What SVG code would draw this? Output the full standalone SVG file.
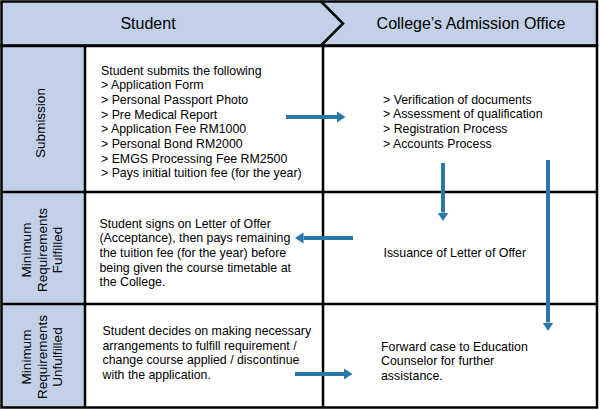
<svg xmlns="http://www.w3.org/2000/svg" width="600" height="410" viewBox="0 0 600 410">
<defs>
<style>
.t{font-family:"Liberation Sans",Arial,sans-serif;font-size:12.35px;fill:#000}
.h{font-family:"Liberation Sans",Arial,sans-serif;font-size:16px;fill:#000;text-anchor:middle}
.s{font-family:"Liberation Sans",Arial,sans-serif;font-size:13.5px;fill:#000;text-anchor:middle}
.ln{stroke:#000;stroke-width:2.5;fill:none}
.ar{stroke:#2a78aa;stroke-width:4;fill:none;marker-end:url(#ah)}
</style>
<marker id="ah" markerUnits="userSpaceOnUse" markerWidth="9" markerHeight="12" refX="0" refY="6" orient="auto">
<path d="M0,0.5 L8.5,6 L0,11.5 z" fill="#2a78aa"/>
</marker>
</defs>
<rect x="0" y="0" width="600" height="410" fill="#fff"/>
<g id="header">
<rect x="1.5" y="1.5" width="595.5" height="44" fill="#c2d1e8" stroke="#000" stroke-width="2.5"/>
<polyline points="321,1.5 343,23.5 321,45.5" class="ln"/>
<text class="h" x="148" y="29">Student</text>
<text class="h" x="471" y="29">College’s Admission Office</text>
</g>
<g id="grid">
<rect x="1.5" y="46" width="83.5" height="361.5" fill="#c2d1e8"/>
<rect x="1.5" y="46" width="595.5" height="361.5" class="ln"/>
<line x1="85" y1="46" x2="85" y2="407.5" class="ln"/>
<line x1="323" y1="46" x2="323" y2="407.5" class="ln"/>
<line x1="1.5" y1="192" x2="597" y2="192" class="ln"/>
<line x1="1.5" y1="304" x2="597" y2="304" class="ln"/>
</g>
<g id="lane-submission">
<text class="s" transform="translate(45,123) rotate(-90)">Submission</text>
</g>
<g id="lane-fulfilled">
<text class="s" transform="translate(31,250) rotate(-90)">Minimum</text>
<text class="s" transform="translate(46.5,250) rotate(-90)">Requirements</text>
<text class="s" transform="translate(62,250) rotate(-90)">Fulfilled</text>
</g>
<g id="lane-unfulfilled">
<text class="s" transform="translate(31,357) rotate(-90)">Minimum</text>
<text class="s" transform="translate(46.5,357) rotate(-90)">Requirements</text>
<text class="s" transform="translate(62,357) rotate(-90)">Unfulfilled</text>
</g>
<g id="student-submits">
<text class="t" x="101" y="74.5">Student submits the following</text>
<text class="t" x="101" y="89.2">&gt; Application Form</text>
<text class="t" x="101" y="103.9">&gt; Personal Passport Photo</text>
<text class="t" x="101" y="118.6">&gt; Pre Medical Report</text>
<text class="t" x="101" y="133.3">&gt; Application Fee RM1000</text>
<text class="t" x="101" y="148">&gt; Personal Bond RM2000</text>
<text class="t" x="101" y="162.7">&gt; EMGS Processing Fee RM2500</text>
<text class="t" x="101" y="177.4">&gt; Pays initial tuition fee (for the year)</text>
</g>
<g id="office-verification">
<text class="t" x="383" y="103.5">&gt; Verification of documents</text>
<text class="t" x="383" y="118.2">&gt; Assessment of qualification</text>
<text class="t" x="383" y="132.9">&gt; Registration Process</text>
<text class="t" x="383" y="147.6">&gt; Accounts Process</text>
</g>
<g id="student-signs">
<text class="t" x="99.5" y="227.5">Student signs on Letter of Offer</text>
<text class="t" x="99.5" y="242.2">(Acceptance), then pays remaining</text>
<text class="t" x="99.5" y="256.9">the tuition fee (for the year) before</text>
<text class="t" x="99.5" y="271.6">being given the course timetable at</text>
<text class="t" x="99.5" y="286.3">the College.</text>
</g>
<g id="office-issuance">
<text class="t" x="383.5" y="256.5">Issuance of Letter of Offer</text>
</g>
<g id="student-decides">
<text class="t" x="102.5" y="335">Student decides on making necessary</text>
<text class="t" x="102.5" y="349.7">arrangements to fulfill requirement /</text>
<text class="t" x="102.5" y="364.4">change course applied / discontinue</text>
<text class="t" x="102.5" y="379.1">with the application.</text>
</g>
<g id="office-forward">
<text class="t" x="381" y="350.5">Forward case to Education</text>
<text class="t" x="381" y="365.2">Counselor for further</text>
<text class="t" x="381" y="379.9">assistance.</text>
</g>
<g id="connectors">
<line x1="286" y1="117" x2="337" y2="117" class="ar"/>
<line x1="443" y1="163" x2="443" y2="212.5" class="ar"/>
<line x1="548" y1="160" x2="548" y2="322.5" class="ar"/>
<line x1="353" y1="238" x2="303.5" y2="238" class="ar"/>
<line x1="295" y1="374" x2="344" y2="374" class="ar"/>
</g>
</svg>
